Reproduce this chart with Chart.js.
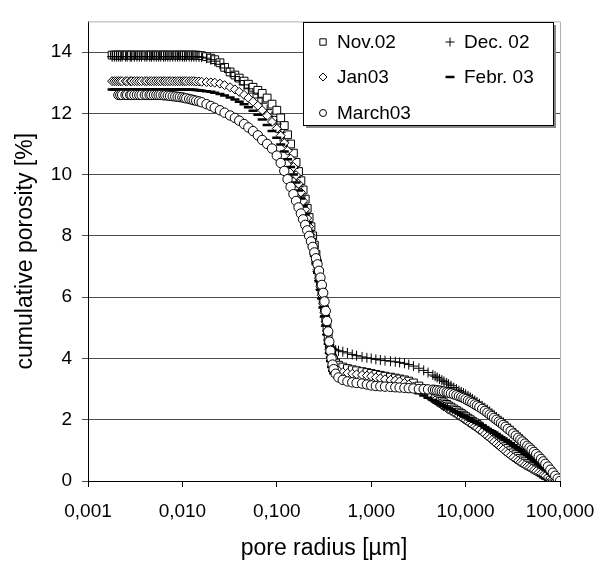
<!DOCTYPE html>
<html>
<head>
<meta charset="utf-8">
<script src="https://cdn.jsdelivr.net/npm/chart.js@4.4.1/dist/chart.umd.min.js"></script>
<style>
  html, body { margin: 0; padding: 0; background: #fff; }
  canvas { display: block; }
</style>
</head>
<body>
<canvas id="porosityChart" width="611" height="569"></canvas>
<script>
// pressure steps of the intrusion runs, expressed as pore radius [µm]
var poreRadius = [
  0.0018, 0.0019, 0.002, 0.0021, 0.0022, 0.0023, 0.0025, 0.0026, 0.0028, 0.0029,
  0.0031, 0.0033, 0.0035, 0.0037, 0.004, 0.0042, 0.0045, 0.0047, 0.005, 0.0053,
  0.0056, 0.0059, 0.0063, 0.0066, 0.007, 0.0074, 0.0079, 0.0084, 0.0089, 0.0094,
  0.01, 0.0105, 0.011, 0.0118, 0.0125, 0.0132, 0.014, 0.015, 0.016,
  0.018, 0.02, 0.022, 0.025, 0.028, 0.032, 0.036, 0.04, 0.045, 0.05,
  0.056, 0.063, 0.07, 0.079, 0.089, 0.1, 0.11, 0.12, 0.13, 0.14,
  0.15, 0.16, 0.17, 0.18, 0.19, 0.2, 0.21, 0.22, 0.23, 0.24,
  0.25, 0.26, 0.27, 0.28, 0.29, 0.3, 0.31, 0.32, 0.33, 0.34,
  0.35, 0.36, 0.37, 0.38, 0.39, 0.4, 0.42, 0.45, 0.5, 0.56,
  0.63, 0.7, 0.8, 0.9, 1.0, 1.12, 1.25, 1.4, 1.6, 1.8,
  2.0, 2.25, 2.5, 2.8, 3.2, 3.6, 4.0,
  4.5, 4.75, 5.0, 5.3, 5.6, 5.9, 6.3, 6.6, 7.0, 7.5,
  8.0, 8.5, 9.0, 9.5, 10, 10.6, 11.2, 11.8, 12.5, 13.2,
  14, 15, 16, 17, 18, 19, 20, 21.2, 22.5, 23.7,
  25, 26.5, 28, 30, 32, 34, 36, 38, 40, 42.5,
  45, 47.5, 50, 53, 56, 59.5, 63, 66.5, 70, 74.5,
  79, 84, 89, 94.5, 100
];

// cumulative porosity [%] per campaign
var nov02 = [
  13.9, 13.9, 13.9, 13.9, 13.9, 13.9, 13.9, 13.9, 13.9, 13.9,
  13.9, 13.9, 13.9, 13.9, 13.9, 13.9, 13.9, 13.9, 13.9, 13.9,
  13.9, 13.9, 13.9, 13.9, 13.9, 13.9, 13.9, 13.9, 13.9, 13.9,
  13.9, 13.9, 13.9, 13.9, 13.9, 13.9, 13.9, 13.89, 13.88,
  13.85, 13.8, 13.75, 13.65, 13.5, 13.35, 13.25, 13.15, 13.05, 12.95,
  12.85, 12.75, 12.65, 12.5, 12.3, 12.1, 11.85, 11.6, 11.3, 11.0,
  10.7, 10.4, 10.1, 9.8, 9.5, 9.2, 8.9, 8.6, 8.3, 8.0,
  7.7, 7.4, 7.1, 6.8, 6.5, 6.2, 5.9, 5.6, 5.3, 5.0,
  4.7, 4.45, 4.25, 4.1, 4.0, 3.95, 3.85, 3.78, 3.72, 3.67,
  3.63, 3.6, 3.57, 3.54, 3.51, 3.48, 3.45, 3.42, 3.39, 3.36,
  3.33, 3.3, 3.26, 3.2, 3.1, 3.0, 2.9,
  2.8, 2.75, 2.7, 2.65, 2.6, 2.55, 2.5, 2.45, 2.41, 2.35,
  2.3, 2.25, 2.2, 2.15, 2.1, 2.05, 2.0, 1.95, 1.9, 1.85,
  1.79, 1.72, 1.66, 1.6, 1.54, 1.48, 1.43, 1.37, 1.31, 1.25,
  1.19, 1.12, 1.06, 0.99, 0.92, 0.86, 0.8, 0.74, 0.69, 0.63,
  0.57, 0.52, 0.47, 0.42, 0.37, 0.32, 0.27, 0.22, 0.18, 0.14,
  0.1, 0.07, 0.04, 0.02, 0
];
var dec02 = [
  13.85, 13.85, 13.85, 13.85, 13.85, 13.85, 13.85, 13.85, 13.85, 13.85,
  13.85, 13.85, 13.85, 13.85, 13.85, 13.85, 13.85, 13.85, 13.85, 13.85,
  13.85, 13.85, 13.85, 13.85, 13.85, 13.85, 13.85, 13.85, 13.85, 13.85,
  13.85, 13.85, 13.85, 13.85, 13.85, 13.85, 13.85, 13.84, 13.83,
  13.8, 13.75, 13.7, 13.6, 13.48, 13.33, 13.2, 13.07, 12.93, 12.8,
  12.66, 12.5, 12.33, 12.12, 11.9, 11.65, 11.38, 11.1, 10.8, 10.5,
  10.2, 9.9, 9.6, 9.3, 9.0, 8.72, 8.45, 8.18, 7.92, 7.66,
  7.4, 7.12, 6.84, 6.55, 6.25, 5.95, 5.65, 5.35, 5.05, 4.78,
  4.58, 4.45, 4.38, 4.34, 4.31, 4.29, 4.27, 4.25, 4.22, 4.18,
  4.13, 4.09, 4.05, 4.02, 4.0, 3.97, 3.95, 3.93, 3.91, 3.89,
  3.87, 3.84, 3.8, 3.75, 3.68, 3.61, 3.54,
  3.46, 3.42, 3.38, 3.33, 3.29, 3.25, 3.2, 3.16, 3.11, 3.05,
  3.0, 2.95, 2.91, 2.87, 2.83, 2.78, 2.73, 2.68, 2.63, 2.58,
  2.52, 2.45, 2.39, 2.33, 2.27, 2.21, 2.16, 2.09, 2.03, 1.97,
  1.92, 1.85, 1.79, 1.71, 1.63, 1.56, 1.49, 1.42, 1.36, 1.28,
  1.21, 1.14, 1.07, 0.99, 0.92, 0.83, 0.75, 0.66, 0.58, 0.48,
  0.38, 0.27, 0.17, 0.08, 0
];
var jan03 = [
  13.05, 13.05, 13.05, 13.05, 13.05, 13.05, 13.05, 13.05, 13.05, 13.05,
  13.05, 13.05, 13.05, 13.05, 13.05, 13.05, 13.05, 13.05, 13.05, 13.05,
  13.05, 13.05, 13.05, 13.05, 13.05, 13.05, 13.05, 13.05, 13.05, 13.05,
  13.05, 13.05, 13.05, 13.05, 13.05, 13.05, 13.04, 13.04, 13.03,
  13.02, 13.01, 13.0, 12.97, 12.92, 12.85, 12.78, 12.7, 12.6, 12.5,
  12.38, 12.25, 12.1, 11.92, 11.72, 11.5, 11.27, 11.03, 10.78, 10.52,
  10.25, 9.98, 9.7, 9.42, 9.14, 8.86, 8.58, 8.3, 8.02, 7.74,
  7.46, 7.18, 6.9, 6.62, 6.34, 6.06, 5.78, 5.5, 5.2, 4.9,
  4.6, 4.3, 4.05, 3.9, 3.8, 3.72, 3.65, 3.6, 3.55, 3.52,
  3.5, 3.48, 3.46, 3.44, 3.42, 3.38, 3.35, 3.32, 3.3, 3.28,
  3.25, 3.2, 3.15, 3.08, 2.98, 2.88, 2.78,
  2.68, 2.63, 2.58, 2.53, 2.48, 2.43, 2.38, 2.33, 2.29, 2.23,
  2.18, 2.13, 2.08, 2.03, 1.98, 1.93, 1.88, 1.83, 1.78, 1.73,
  1.67, 1.6, 1.53, 1.46, 1.4, 1.34, 1.28, 1.21, 1.15, 1.09,
  1.03, 0.96, 0.9, 0.83, 0.77, 0.71, 0.66, 0.61, 0.57, 0.52,
  0.48, 0.44, 0.4, 0.36, 0.32, 0.28, 0.24, 0.2, 0.17, 0.13,
  0.1, 0.07, 0.04, 0.02, 0
];
var feb03 = [
  12.78, 12.78, 12.78, 12.78, 12.78, 12.78, 12.78, 12.78, 12.78, 12.78,
  12.78, 12.78, 12.78, 12.78, 12.78, 12.78, 12.78, 12.78, 12.78, 12.78,
  12.78, 12.78, 12.78, 12.78, 12.78, 12.78, 12.78, 12.78, 12.78, 12.78,
  12.78, 12.78, 12.78, 12.78, 12.77, 12.77, 12.76, 12.75, 12.74,
  12.72, 12.7, 12.67, 12.63, 12.58, 12.52, 12.45, 12.38, 12.3, 12.2,
  12.08, 11.95, 11.8, 11.62, 11.42, 11.2, 10.98, 10.75, 10.5, 10.25,
  10.0, 9.74, 9.48, 9.22, 8.96, 8.7, 8.43, 8.16, 7.89, 7.62,
  7.35, 7.08, 6.8, 6.52, 6.24, 5.96, 5.67, 5.38, 5.08, 4.78,
  4.48, 4.18, 3.92, 3.72, 3.6, 3.52, 3.45, 3.4, 3.35, 3.3,
  3.27, 3.24, 3.21, 3.19, 3.17, 3.15, 3.13, 3.11, 3.09, 3.07,
  3.05, 3.02, 2.98, 2.93, 2.86, 2.79, 2.72,
  2.64, 2.6, 2.56, 2.52, 2.48, 2.44, 2.4, 2.37, 2.33, 2.28,
  2.24, 2.2, 2.16, 2.12, 2.09, 2.05, 2.01, 1.97, 1.93, 1.89,
  1.85, 1.8, 1.75, 1.7, 1.66, 1.62, 1.58, 1.53, 1.48, 1.43,
  1.39, 1.34, 1.29, 1.23, 1.17, 1.11, 1.06, 1.01, 0.96, 0.9,
  0.85, 0.8, 0.74, 0.68, 0.62, 0.56, 0.5, 0.44, 0.38, 0.31,
  0.24, 0.17, 0.1, 0.05, 0
];
var march03 = [
  null, null, null, 12.6, 12.6, 12.6, 12.6, 12.6, 12.6, 12.6,
  12.6, 12.6, 12.6, 12.6, 12.6, 12.6, 12.6, 12.6, 12.6, 12.6,
  12.6, 12.6, 12.59, 12.59, 12.58, 12.57, 12.56, 12.55, 12.54, 12.53,
  12.52, 12.5, 12.49, 12.47, 12.45, 12.43, 12.41, 12.39, 12.36,
  12.3, 12.24, 12.18, 12.1, 12.02, 11.93, 11.85, 11.76, 11.65, 11.54,
  11.42, 11.28, 11.13, 11.0, 10.85, 10.62, 10.38, 10.12, 9.85, 9.6,
  9.36, 9.14, 8.93, 8.73, 8.54, 8.36, 8.18, 8.0, 7.82, 7.64,
  7.46, 7.27, 7.07, 6.86, 6.64, 6.4, 6.14, 5.86, 5.55, 5.22,
  4.88, 4.55, 4.25, 4.0, 3.8, 3.65, 3.5, 3.38, 3.3, 3.25,
  3.22, 3.2, 3.18, 3.15, 3.12, 3.1, 3.09, 3.08, 3.07, 3.06,
  3.05, 3.04, 3.03, 3.02, 3.0, 3.0, 2.99,
  2.98, 2.97, 2.96, 2.95, 2.93, 2.92, 2.9, 2.88, 2.86, 2.83,
  2.8, 2.77, 2.74, 2.71, 2.67, 2.63, 2.59, 2.55, 2.5, 2.46,
  2.41, 2.35, 2.29, 2.23, 2.17, 2.12, 2.06, 2.0, 1.94, 1.89,
  1.83, 1.77, 1.7, 1.63, 1.55, 1.48, 1.41, 1.35, 1.29, 1.22,
  1.15, 1.09, 1.02, 0.95, 0.88, 0.8, 0.72, 0.64, 0.56, 0.47,
  0.37, 0.27, 0.17, 0.08, 0
];

var seriesNames = ["Nov.02", "Dec. 02", "Jan03", "Febr. 03", "March03"];
var seriesValues = [nov02, dec02, jan03, feb03, march03];
var radiusTicks = [0.001, 0.01, 0.1, 1, 10, 100];
var porosityTicks = [0, 2, 4, 6, 8, 10, 12, 14];

// marker look per campaign (plot size, legend size); later campaigns sit on top
var markers = [
  { pointStyle: 'rect',    radius: 5.5, key: 4.5, borderWidth: 1,   fill: '#fff' },
  { pointStyle: 'cross',   radius: 5,   key: 4.5, borderWidth: 1,   fill: '#000' },
  { pointStyle: 'rectRot', radius: 4.5, key: 4,   borderWidth: 1,   fill: '#fff' },
  { pointStyle: 'line',    radius: 4.5, key: 4.5, borderWidth: 2.5, fill: '#000' },
  { pointStyle: 'circle',  radius: 4.7, key: 3.5, borderWidth: 1,   fill: '#fff' }
];

// legend: boxed, two columns, three rows
var legendBox = { left: 303, top: 22, right: 553, bottom: 125 };
var legendSlots = [[323, 42], [450, 42], [323, 77], [450, 77], [323, 113]];

var FONT = "'Liberation Sans', Arial, sans-serif";
Chart.defaults.font.family = FONT;
Chart.defaults.color = '#000';

function toPoints(values) {
  return poreRadius.map(function (r, i) {
    return { x: r, y: values[i] };
  });
}

var datasets = seriesValues.map(function (values, i) {
  var m = markers[i];
  return {
    label: seriesNames[i],
    data: toPoints(values),
    pointStyle: m.pointStyle,
    pointRadius: m.radius,
    pointBorderWidth: m.borderWidth,
    pointBackgroundColor: m.fill,
    pointBorderColor: '#000',
    showLine: false,
    order: seriesValues.length - i
  };
});

function markerAt(ctx, m, x, y) {
  ctx.save();
  ctx.fillStyle = m.fill;
  ctx.strokeStyle = '#000';
  ctx.lineWidth = m.borderWidth;
  Chart.helpers.drawPoint(ctx, { pointStyle: m.pointStyle, radius: m.key, borderWidth: m.borderWidth, rotation: 0 }, x, y);
  ctx.restore();
}

var frameAndLegend = {
  id: 'frameAndLegend',
  beforeDatasetsDraw: function (chart) {
    var a = chart.chartArea, ctx = chart.ctx;
    ctx.save();
    ctx.strokeStyle = '#b0b0b0';
    ctx.lineWidth = 1;
    ctx.beginPath();
    ctx.moveTo(a.left, a.top + 0.5);
    ctx.lineTo(a.right + 0.5, a.top + 0.5);
    ctx.lineTo(a.right + 0.5, a.bottom);
    ctx.stroke();
    ctx.restore();
  },
  afterDraw: function (chart) {
    var ctx = chart.ctx, b = legendBox;
    ctx.save();
    ctx.fillStyle = '#888';
    ctx.fillRect(b.left + 3, b.top + 3, b.right - b.left, b.bottom - b.top);
    ctx.fillStyle = '#fff';
    ctx.fillRect(b.left, b.top, b.right - b.left, b.bottom - b.top);
    ctx.strokeStyle = '#000';
    ctx.lineWidth = 1;
    ctx.strokeRect(b.left + 0.5, b.top + 0.5, b.right - b.left, b.bottom - b.top);
    ctx.font = '19px ' + FONT;
    ctx.textBaseline = 'middle';
    ctx.textAlign = 'left';
    seriesNames.forEach(function (name, i) {
      var s = legendSlots[i];
      markerAt(ctx, markers[i], s[0], s[1]);
      ctx.fillStyle = '#000';
      ctx.fillText(name, s[0] + 14, s[1] + 1);
    });
    ctx.restore();
  }
};

new Chart(document.getElementById('porosityChart'), {
  type: 'scatter',
  data: { datasets: datasets },
  plugins: [frameAndLegend],
  options: {
    responsive: false,
    animation: false,
    devicePixelRatio: 1,
    layout: { padding: { left: 0, top: 11, right: 51, bottom: 0 } },
    plugins: {
      legend: { display: false },
      tooltip: { enabled: false }
    },
    scales: {
      x: {
        type: 'logarithmic',
        min: 0.001,
        max: 100,
        afterBuildTicks: function (axis) {
          axis.ticks = radiusTicks.map(function (v) { return { value: v }; });
        },
        afterFit: function (axis) { axis.height = 88; },
        ticks: {
          autoSkip: false,
          maxRotation: 0,
          padding: 13,
          font: { size: 19 },
          callback: function (v) { return Number(v).toFixed(3).replace('.', ','); }
        },
        grid: { drawOnChartArea: false, tickLength: 6, color: '#000' },
        border: { color: '#000', width: 1 },
        title: {
          display: true,
          text: 'pore radius [µm]',
          font: { size: 23 },
          padding: { top: 0, bottom: 7 }
        }
      },
      y: {
        min: 0,
        max: 15,
        afterBuildTicks: function (axis) {
          axis.ticks = porosityTicks.map(function (v) { return { value: v }; });
        },
        afterFit: function (axis) { axis.width = 88; },
        ticks: { padding: 10, font: { size: 19 } },
        grid: { color: '#4d4d4d', tickLength: 6 },
        border: { color: '#000', width: 1 },
        title: {
          display: true,
          text: 'cumulative porosity [%]',
          font: { size: 23 },
          padding: { top: 12, bottom: 0 }
        }
      }
    }
  }
});
</script>
</body>
</html>
